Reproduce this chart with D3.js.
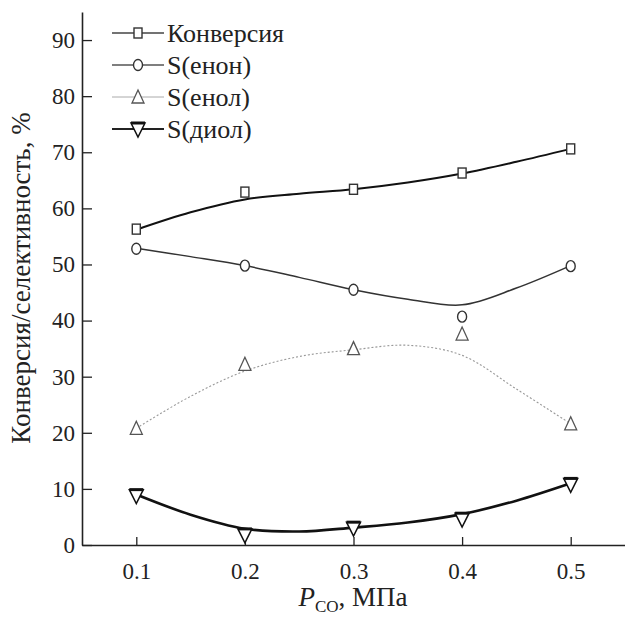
<!DOCTYPE html>
<html><head><meta charset="utf-8">
<script src="https://cdn.jsdelivr.net/npm/d3@7"></script>
<style>body{margin:0;background:#fff}svg{display:block}svg text{font-family:'Liberation Serif','Times New Roman',Times,'DejaVu Serif',serif;fill:#222}</style>
</head><body><svg id="c" width="625" height="620"></svg>
<script>
const pressure = [0.1, 0.2, 0.3, 0.4, 0.5];
const conversion = [56.3, 62.9, 63.4, 66.3, 70.6];
const enone = [52.8, 49.8, 45.5, 40.7, 49.7];
const enol = [20.8, 32.2, 35.0, 37.6, 21.6];
const diol = [8.8, 1.8, 3.0, 4.6, 10.8];
// smoothed fit curves
const fitX = [0.1, 0.15, 0.2, 0.25, 0.3, 0.35, 0.4, 0.45, 0.5];
const conversionFit = [56.2, 59.3, 61.6, 62.6, 63.4, 64.6, 66.2, 68.3, 70.6];
const enoneFit = [52.9, 51.4, 49.8, 47.7, 45.5, 43.8, 42.8, 45.8, 49.8];
const enolFit = [20.8, 26.5, 31.0, 33.6, 34.8, 35.6, 33.8, 27.8, 21.6];
const diolFit = [9.0, 5.4, 2.9, 2.4, 3.1, 4.0, 5.5, 7.9, 11.0];
const yTicks = [0, 10, 20, 30, 40, 50, 60, 70, 80, 90];
const xTicks = [0.1, 0.2, 0.3, 0.4, 0.5];
const seriesNames = ["Конверсия", "S(енон)", "S(енол)", "S(диол)"];

const svg = d3.select("#c");
const x = d3.scaleLinear().domain([0.05, 0.55]).range([82, 625]);
const y = d3.scaleLinear().domain([0, 95]).range([545, 12]);

// axes
const gx = svg.append("g").attr("transform", "translate(0,545)")
  .call(d3.axisBottom(x).tickValues(xTicks).tickFormat(d3.format(".1f")).tickSize(-8).tickSizeOuter(0).tickPadding(18));
const gy = svg.append("g").attr("transform", "translate(82,0)")
  .call(d3.axisLeft(y).tickValues(yTicks).tickSize(-10).tickSizeOuter(0).tickPadding(7));
[gx, gy].forEach(g => {
  g.attr("font-family", null);
  g.select(".domain").attr("stroke", "#222").attr("stroke-width", 1.6);
  g.selectAll(".tick line").attr("stroke", "#222").attr("stroke-width", 1.3);
  g.selectAll(".tick text").attr("font-size", 23).attr("fill", "#222");
});

// axis titles
const xt = svg.append("text").attr("x", 353).attr("y", 606).attr("text-anchor", "middle").attr("font-size", 27);
xt.append("tspan").attr("font-style", "italic").text("P");
xt.append("tspan").attr("font-size", 17).attr("dy", 6).text("CO");
xt.append("tspan").attr("dy", -6).text(", МПа");
svg.append("text").attr("transform", "translate(30,278) rotate(-90)").attr("text-anchor", "middle")
  .attr("font-size", 27).text("Конверсия/селективность, %");

const styles = [
  {stroke: "#111", w: 2, dash: null, mk: "square", ms: "#333", lw: 1.6, lc: "#444"},
  {stroke: "#333", w: 1.5, dash: null, mk: "circle", ms: "#333", lw: 1.5, lc: "#555"},
  {stroke: "#999", w: 1.1, dash: "2,2", mk: "tri", ms: "#555", lw: 1, lc: "#aaa"},
  {stroke: "#111", w: 2.6, dash: null, mk: "tridown", ms: "#111", lw: 2.2, lc: "#222"}
];
const fits = [conversionFit, enoneFit, enolFit, diolFit];
const vals = [conversion, enone, enol, diol];

const line = d3.line().x(d => x(d[0])).y(d => y(d[1])).curve(d3.curveCatmullRom.alpha(0.5));

function marker(g, type, cx, cy, stroke) {
  if (type === "square") {
    g.append("rect").attr("x", cx - 4).attr("y", cy - 5).attr("width", 8).attr("height", 10)
      .attr("fill", "#fff").attr("stroke", stroke).attr("stroke-width", 1.4);
  } else if (type === "circle") {
    g.append("ellipse").attr("cx", cx).attr("cy", cy).attr("rx", 4.5).attr("ry", 5.5)
      .attr("fill", "#fff").attr("stroke", stroke).attr("stroke-width", 1.4);
  } else if (type === "tri") {
    g.append("path").attr("d", `M${cx},${cy - 7}L${cx + 6},${cy + 6}L${cx - 6},${cy + 6}Z`)
      .attr("fill", "#fff").attr("stroke", stroke).attr("stroke-width", 1.3);
  } else {
    g.append("path").attr("d", `M${cx - 7},${cy - 6}L${cx + 7},${cy - 6}L${cx},${cy + 8}Z`)
      .attr("fill", "#fff").attr("stroke", stroke).attr("stroke-width", 1.5);
    g.append("line").attr("x1", cx - 7).attr("x2", cx + 7).attr("y1", cy - 6).attr("y2", cy - 6)
      .attr("stroke", stroke).attr("stroke-width", 3);
  }
}

fits.forEach((f, i) => {
  const s = styles[i];
  svg.append("path").datum(fitX.map((xv, j) => [xv, f[j]]))
    .attr("d", line).attr("fill", "none").attr("stroke", s.stroke).attr("stroke-width", s.w)
    .attr("stroke-dasharray", s.dash);
});
vals.forEach((v, i) => {
  const g = svg.append("g");
  v.forEach((val, j) => marker(g, styles[i].mk, x(pressure[j]), y(val), styles[i].ms));
});

// legend
const legY = [33, 65, 97, 129];
seriesNames.forEach((n, i) => {
  const s = styles[i];
  const g = svg.append("g");
  g.append("line").attr("x1", 112).attr("x2", 164).attr("y1", legY[i]).attr("y2", legY[i])
    .attr("stroke", s.lc).attr("stroke-width", s.lw);
  marker(g, s.mk, 138, legY[i], s.ms);
  g.append("text").attr("x", 167).attr("y", legY[i] + 9).attr("font-size", 26).text(n);
});
</script></body></html>
